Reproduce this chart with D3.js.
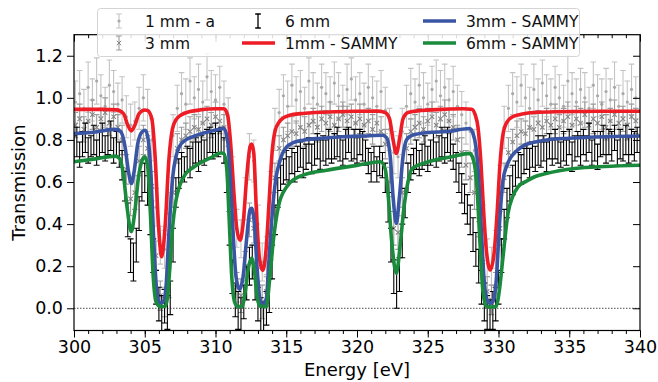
<!DOCTYPE html>
<html>
<head>
<meta charset="utf-8">
<script src="https://cdn.jsdelivr.net/npm/d3@7"></script>
<style>
  body { margin: 0; background: #fff; }
  svg { display: block; font-family: "DejaVu Sans", sans-serif; }
</style>
</head>
<body>
<svg id="chart" width="658" height="382"></svg>
<script>
'use strict';

// measured energies of the 1 mm and 3 mm samples
var energy = [
  300.1,300.4,300.7,301.0,301.3,301.6,301.9,302.2,302.5,302.8,
  303.1,303.4,303.7,304.0,304.3,304.6,304.9,305.2,305.5,305.8,
  306.1,306.4,306.7,307.0,307.3,307.6,307.9,308.2,308.5,308.8,
  309.1,309.4,309.7,310.0,310.3,310.6,310.9,311.2,311.5,311.8,
  312.1,312.4,312.7,313.0,313.3,313.6,313.9,314.2,314.5,314.8,
  315.1,315.4,315.7,316.0,316.3,316.6,316.9,317.2,317.5,317.8,
  318.1,318.4,318.7,319.0,319.3,319.6,319.9,320.2,320.5,320.8,
  321.1,321.4,321.7,322.0,322.3,322.6,322.9,323.2,323.5,323.8,
  324.1,324.4,324.7,325.0,325.3,325.6,325.9,326.2,326.5,326.8,
  327.1,327.4,327.7,328.0,328.3,328.6,328.9,329.2,329.5,329.8,
  330.1,330.4,330.7,331.0,331.3,331.6,331.9,332.2,332.5,332.8,
  333.1,333.4,333.7,334.0,334.3,334.6,334.9,335.2,335.5,335.8,
  336.1,336.4,336.7,337.0,337.3,337.6,337.9,338.2,338.5,338.8,
  339.1,339.4,339.7
];

// 1 mm - a
var t1 = [
  0.98,1.02,0.95,1.05,0.99,1.08,1.01,0.96,1.06,1.03,
  0.97,0.99,0.91,0.87,0.89,0.95,1.00,0.94,0.80,0.48,
  0.30,0.28,0.45,0.82,0.95,1.02,0.97,1.08,1.00,1.04,
  0.98,1.10,1.03,0.99,1.05,0.97,0.90,0.62,0.38,0.33,
  0.52,0.72,0.70,0.40,0.22,0.25,0.55,0.85,0.93,1.01,
  0.96,1.06,0.99,1.03,0.95,1.08,1.00,0.97,1.05,1.02,
  0.98,1.07,1.01,0.96,1.04,1.09,0.99,1.02,0.97,1.05,
  1.00,0.96,1.03,0.94,0.85,0.74,0.72,0.84,0.96,1.02,
  0.98,1.06,1.00,0.97,1.04,1.08,1.01,1.05,0.99,1.03,
  0.96,0.92,0.88,0.84,0.75,0.62,0.40,0.24,0.20,0.28,
  0.58,0.86,0.95,1.02,0.98,1.06,1.00,0.95,1.04,0.99,
  1.07,1.01,0.97,1.05,1.00,0.96,1.08,1.02,0.98,1.04,
  1.00,0.95,1.06,1.01,0.97,1.03,0.99,1.05,0.96,1.02,
  0.98,1.04,1.00
];
var e1 = [
  0.10,0.11,0.09,0.12,0.10,0.11,0.10,0.09,0.12,0.10,
  0.10,0.11,0.10,0.10,0.09,0.10,0.11,0.10,0.10,0.09,
  0.09,0.09,0.10,0.10,0.11,0.10,0.12,0.11,0.10,0.12,
  0.10,0.11,0.10,0.12,0.10,0.11,0.10,0.10,0.09,0.09,
  0.10,0.11,0.10,0.09,0.09,0.09,0.10,0.10,0.11,0.10,
  0.12,0.10,0.11,0.10,0.10,0.11,0.12,0.10,0.11,0.10,
  0.12,0.10,0.11,0.10,0.12,0.10,0.11,0.10,0.10,0.11,
  0.10,0.12,0.10,0.11,0.10,0.10,0.10,0.11,0.10,0.12,
  0.11,0.10,0.12,0.10,0.11,0.10,0.12,0.11,0.10,0.12,
  0.10,0.11,0.10,0.10,0.10,0.10,0.09,0.09,0.09,0.09,
  0.10,0.10,0.11,0.10,0.12,0.10,0.11,0.10,0.12,0.10,
  0.11,0.10,0.12,0.10,0.11,0.10,0.12,0.10,0.11,0.10,
  0.12,0.10,0.11,0.10,0.12,0.11,0.10,0.12,0.10,0.11,
  0.10,0.12,0.10
];

// 3 mm
var t3 = [
  0.87,0.90,0.85,0.89,0.92,0.86,0.90,0.93,0.88,0.91,
  0.86,0.80,0.66,0.52,0.55,0.70,0.80,0.76,0.58,0.25,
  0.06,0.03,0.12,0.55,0.76,0.80,0.82,0.84,0.86,0.85,
  0.88,0.90,0.87,0.91,0.89,0.86,0.70,0.35,0.10,0.06,
  0.20,0.42,0.38,0.12,0.03,0.08,0.30,0.62,0.76,0.80,
  0.82,0.84,0.83,0.86,0.84,0.87,0.89,0.86,0.90,0.88,
  0.91,0.87,0.90,0.92,0.89,0.91,0.88,0.90,0.87,0.89,
  0.85,0.88,0.84,0.78,0.60,0.38,0.36,0.55,0.76,0.84,
  0.86,0.88,0.85,0.89,0.91,0.87,0.90,0.92,0.89,0.86,
  0.80,0.74,0.68,0.62,0.55,0.42,0.22,0.08,0.04,0.10,
  0.38,0.62,0.74,0.79,0.82,0.84,0.83,0.86,0.85,0.88,
  0.86,0.89,0.87,0.90,0.86,0.89,0.91,0.87,0.90,0.88,
  0.92,0.87,0.90,0.88,0.91,0.86,0.89,0.92,0.88,0.90,
  0.87,0.91,0.89
];
var e3 = [
  0.06,0.07,0.06,0.06,0.07,0.06,0.05,0.07,0.06,0.06,
  0.06,0.07,0.07,0.08,0.08,0.07,0.07,0.06,0.07,0.07,
  0.07,0.07,0.07,0.07,0.07,0.06,0.06,0.07,0.06,0.06,
  0.07,0.06,0.06,0.07,0.06,0.06,0.07,0.07,0.07,0.08,
  0.07,0.08,0.07,0.07,0.08,0.07,0.07,0.07,0.06,0.06,
  0.06,0.07,0.06,0.06,0.07,0.06,0.06,0.07,0.06,0.06,
  0.07,0.06,0.06,0.06,0.07,0.06,0.06,0.07,0.06,0.06,
  0.07,0.06,0.07,0.07,0.07,0.08,0.08,0.07,0.07,0.06,
  0.06,0.07,0.06,0.06,0.07,0.06,0.06,0.07,0.06,0.06,
  0.07,0.07,0.07,0.07,0.08,0.08,0.08,0.07,0.07,0.07,
  0.08,0.07,0.07,0.06,0.07,0.06,0.06,0.07,0.06,0.06,
  0.07,0.06,0.06,0.07,0.06,0.06,0.07,0.06,0.06,0.07,
  0.06,0.06,0.07,0.06,0.07,0.06,0.06,0.07,0.06,0.06,
  0.07,0.06,0.06
];

// measured energies of the 6 mm sample
var energy6 = [
  300.0,300.2,300.4,300.6,300.8,301.0,301.2,301.4,301.6,301.8,
  302.0,302.2,302.4,302.6,302.8,303.0,303.2,303.4,303.6,303.8,
  304.0,304.2,304.4,304.6,304.8,305.0,305.2,305.4,305.6,305.8,
  306.0,306.2,306.4,306.6,306.8,307.0,307.2,307.4,307.6,307.8,
  308.0,308.2,308.4,308.6,308.8,309.0,309.2,309.4,309.6,309.8,
  310.0,310.2,310.4,310.6,310.8,311.0,311.2,311.4,311.6,311.8,
  312.0,312.2,312.4,312.6,312.8,313.0,313.2,313.4,313.6,313.8,
  314.0,314.2,314.4,314.6,314.8,315.0,315.2,315.4,315.6,315.8,
  316.0,316.2,316.4,316.6,316.8,317.0,317.2,317.4,317.6,317.8,
  318.0,318.2,318.4,318.6,318.8,319.0,319.2,319.4,319.6,319.8,
  320.0,320.2,320.4,320.6,320.8,321.0,321.2,321.4,321.6,321.8,
  322.0,322.2,322.4,322.6,322.8,323.0,323.2,323.4,323.6,323.8,
  324.0,324.2,324.4,324.6,324.8,325.0,325.2,325.4,325.6,325.8,
  326.0,326.2,326.4,326.6,326.8,327.0,327.2,327.4,327.6,327.8,
  328.0,328.2,328.4,328.6,328.8,329.0,329.2,329.4,329.6,329.8,
  330.0,330.2,330.4,330.6,330.8,331.0,331.2,331.4,331.6,331.8,
  332.0,332.2,332.4,332.6,332.8,333.0,333.2,333.4,333.6,333.8,
  334.0,334.2,334.4,334.6,334.8,335.0,335.2,335.4,335.6,335.8,
  336.0,336.2,336.4,336.6,336.8,337.0,337.2,337.4,337.6,337.8,
  338.0,338.2,338.4,338.6,338.8,339.0,339.2,339.4,339.6,339.8
];

// 6 mm
var t6 = [
  0.76,0.79,0.73,0.78,0.81,0.75,0.77,0.80,0.74,0.78,
  0.81,0.76,0.79,0.82,0.75,0.78,0.73,0.68,0.58,0.42,
  0.25,0.22,0.30,0.45,0.58,0.62,0.56,0.42,0.25,0.10,
  0.02,-0.03,0.01,-0.02,0.05,0.30,0.55,0.64,0.68,0.66,
  0.71,0.69,0.73,0.75,0.72,0.76,0.74,0.78,0.80,0.77,
  0.81,0.78,0.80,0.75,0.62,0.38,0.15,0.04,-0.01,-0.03,
  0.03,0.12,0.20,0.22,0.12,0.02,-0.04,-0.05,0.00,0.06,
  0.22,0.42,0.55,0.62,0.65,0.68,0.66,0.70,0.67,0.71,
  0.73,0.69,0.72,0.75,0.71,0.74,0.77,0.73,0.76,0.74,
  0.78,0.75,0.77,0.79,0.76,0.74,0.78,0.80,0.76,0.78,
  0.75,0.79,0.77,0.74,0.70,0.67,0.71,0.66,0.70,0.68,
  0.62,0.48,0.30,0.15,0.09,0.16,0.32,0.50,0.62,0.67,
  0.70,0.73,0.69,0.72,0.75,0.71,0.74,0.77,0.73,0.76,
  0.79,0.75,0.80,0.77,0.72,0.67,0.62,0.57,0.52,0.47,
  0.42,0.35,0.28,0.20,0.10,0.03,-0.02,-0.04,-0.01,0.02,
  0.10,0.25,0.40,0.50,0.57,0.61,0.64,0.68,0.66,0.70,
  0.72,0.69,0.73,0.71,0.75,0.73,0.76,0.72,0.77,0.74,
  0.78,0.75,0.73,0.77,0.74,0.79,0.72,0.76,0.78,0.75,
  0.79,0.76,0.81,0.74,0.77,0.72,0.78,0.80,0.75,0.79,
  0.77,0.81,0.74,0.78,0.76,0.80,0.75,0.79,0.77,0.80
];
var e6 = [
  0.06,0.07,0.06,0.06,0.07,0.06,0.05,0.07,0.06,0.06,
  0.07,0.06,0.06,0.07,0.06,0.06,0.06,0.07,0.07,0.08,
  0.08,0.09,0.08,0.08,0.07,0.07,0.07,0.07,0.08,0.08,
  0.08,0.09,0.08,0.08,0.08,0.08,0.07,0.07,0.06,0.06,
  0.06,0.07,0.06,0.06,0.07,0.06,0.06,0.07,0.06,0.06,
  0.07,0.06,0.06,0.06,0.07,0.08,0.08,0.08,0.09,0.08,
  0.08,0.08,0.09,0.08,0.08,0.08,0.09,0.08,0.08,0.08,
  0.08,0.07,0.07,0.06,0.06,0.07,0.06,0.06,0.07,0.06,
  0.06,0.07,0.06,0.06,0.07,0.06,0.06,0.07,0.06,0.06,
  0.07,0.06,0.06,0.07,0.06,0.06,0.07,0.06,0.06,0.07,
  0.06,0.06,0.07,0.06,0.06,0.07,0.06,0.06,0.07,0.06,
  0.07,0.07,0.08,0.08,0.09,0.08,0.08,0.07,0.07,0.06,
  0.06,0.07,0.06,0.06,0.07,0.06,0.06,0.07,0.06,0.06,
  0.07,0.06,0.06,0.07,0.06,0.07,0.07,0.07,0.07,0.07,
  0.07,0.08,0.08,0.08,0.08,0.09,0.08,0.08,0.09,0.08,
  0.08,0.08,0.07,0.07,0.06,0.07,0.06,0.06,0.07,0.06,
  0.06,0.07,0.06,0.06,0.07,0.06,0.06,0.07,0.06,0.06,
  0.07,0.06,0.06,0.07,0.06,0.06,0.07,0.06,0.06,0.07,
  0.06,0.06,0.07,0.06,0.07,0.06,0.06,0.07,0.06,0.06,
  0.07,0.06,0.06,0.07,0.06,0.07,0.06,0.06,0.07,0.06
];

// SAMMY fits [energy, transmission]
var fit1mm = [
  [300.0,0.945],[302.0,0.945],[303.0,0.943],[303.5,0.925],[303.8,0.87],[304.05,0.843],
  [304.3,0.87],[304.6,0.925],[305.0,0.942],[305.2,0.94],[305.5,0.90],[305.75,0.70],
  [305.95,0.42],[306.2,0.245],[306.45,0.40],[306.7,0.70],[306.95,0.85],[307.2,0.895],
  [307.6,0.92],[308.2,0.935],[309.0,0.943],[310.0,0.948],[310.6,0.948],[310.85,0.92],
  [311.05,0.80],[311.3,0.55],[311.5,0.38],[311.73,0.324],[311.95,0.40],[312.2,0.62],
  [312.45,0.77],[312.56,0.78],[312.7,0.74],[312.9,0.45],[313.1,0.24],[313.33,0.18],
  [313.55,0.26],[313.8,0.52],[314.0,0.74],[314.2,0.84],[314.5,0.885],[314.8,0.905],
  [315.3,0.918],[316.0,0.925],[317.0,0.93],[318.5,0.934],[320.0,0.936],[321.5,0.937],
  [322.0,0.93],[322.3,0.90],[322.55,0.80],[322.78,0.736],[323.0,0.80],[323.25,0.90],
  [323.6,0.93],[324.5,0.94],[326.0,0.945],[327.5,0.948],[328.1,0.946],[328.35,0.92],
  [328.55,0.86],[328.75,0.70],[328.95,0.46],[329.15,0.27],[329.42,0.182],[329.7,0.27],
  [329.9,0.45],[330.1,0.68],[330.3,0.82],[330.6,0.885],[331.0,0.91],[331.6,0.922],
  [332.5,0.93],[334.0,0.934],[337.0,0.936],[340.0,0.936]
];
var fit3mm = [
  [300.0,0.83],[301.5,0.838],[302.9,0.85],[303.3,0.84],[303.6,0.77],[303.85,0.65],
  [304.05,0.593],[304.25,0.65],[304.5,0.78],[304.8,0.838],[305.04,0.846],[305.25,0.80],
  [305.45,0.62],[305.65,0.30],[305.85,0.08],[306.05,0.025],[306.3,0.03],[306.5,0.10],
  [306.7,0.35],[306.97,0.62],[307.2,0.72],[307.44,0.767],[307.9,0.80],[308.4,0.815],
  [309.0,0.83],[309.6,0.84],[310.2,0.85],[310.6,0.854],[310.85,0.80],[311.05,0.62],
  [311.25,0.35],[311.45,0.15],[311.7,0.09],[311.95,0.15],[312.2,0.33],[312.45,0.47],
  [312.56,0.475],[312.75,0.40],[312.95,0.18],[313.15,0.04],[313.38,0.016],[313.6,0.05],
  [313.8,0.25],[314.09,0.514],[314.3,0.63],[314.44,0.672],[314.7,0.73],[315.03,0.767],
  [315.5,0.787],[316.2,0.799],[317.5,0.808],[319.0,0.815],[320.5,0.819],[321.8,0.822],
  [322.1,0.81],[322.35,0.72],[322.55,0.53],[322.78,0.403],[323.0,0.53],[323.25,0.72],
  [323.5,0.80],[323.9,0.822],[325.0,0.835],[326.4,0.84],[327.96,0.854],[328.2,0.83],
  [328.4,0.77],[328.6,0.62],[328.8,0.35],[329.0,0.12],[329.2,0.04],[329.42,0.024],
  [329.65,0.04],[329.85,0.14],[330.05,0.38],[330.32,0.609],[330.6,0.68],[330.9,0.72],
  [331.4,0.755],[331.85,0.775],[332.6,0.79],[333.4,0.80],[335.0,0.808],[337.0,0.814],
  [340.0,0.819]
];
var fit6mm = [
  [300.0,0.696],[301.5,0.71],[302.9,0.723],[303.25,0.71],[303.5,0.63],[303.75,0.48],
  [304.05,0.364],[304.3,0.46],[304.55,0.62],[304.8,0.70],[305.0,0.72],[305.2,0.68],
  [305.4,0.45],[305.6,0.15],[305.8,0.03],[306.1,0.008],[306.45,0.01],[306.6,0.05],
  [306.8,0.22],[306.97,0.387],[307.2,0.51],[307.44,0.577],[307.9,0.64],[308.4,0.668],
  [308.86,0.688],[309.6,0.713],[310.4,0.738],[310.6,0.735],[310.8,0.66],[310.95,0.45],
  [311.15,0.15],[311.35,0.03],[311.6,0.008],[311.9,0.01],[312.1,0.08],[312.35,0.20],
  [312.56,0.237],[312.75,0.18],[312.95,0.05],[313.15,0.01],[313.6,0.008],[313.8,0.12],
  [314.09,0.324],[314.44,0.482],[315.03,0.577],[315.6,0.615],[316.2,0.633],[317.86,0.656],
  [320.07,0.68],[321.67,0.696],[322.0,0.66],[322.2,0.54],[322.45,0.32],[322.78,0.166],
  [323.05,0.30],[323.32,0.48],[323.6,0.60],[323.9,0.664],[325.0,0.695],[326.7,0.72],
  [327.96,0.736],[328.25,0.70],[328.45,0.60],[328.7,0.30],[328.9,0.08],[329.14,0.01],
  [329.5,0.006],[329.85,0.01],[330.05,0.08],[330.32,0.245],[330.67,0.451],[331.0,0.53],
  [331.38,0.577],[332.0,0.605],[332.56,0.625],[333.36,0.64],[335.4,0.664],[337.5,0.674],
  [340.0,0.68]
];

var xTicks = [300, 305, 310, 315, 320, 325, 330, 335, 340];
var yTicks = [0.0, 0.2, 0.4, 0.6, 0.8, 1.0, 1.2];

var svg = d3.select('#chart');
var plotLeft = 74, plotRight = 640, plotTop = 34.7, plotBottom = 330.5;

var x = d3.scaleLinear().domain([300, 340]).range([plotLeft, plotRight]);
var y = d3.scaleLinear().domain([-0.1055, 1.30]).range([plotBottom, plotTop]);

svg.append('defs').append('clipPath').attr('id', 'plotclip')
	.append('rect')
	.attr('x', plotLeft).attr('y', plotTop)
	.attr('width', plotRight - plotLeft).attr('height', plotBottom - plotTop);

var plot = svg.append('g').attr('clip-path', 'url(#plotclip)');

// zero reference line
plot.append('line')
	.attr('x1', plotLeft).attr('x2', plotRight)
	.attr('y1', y(0)).attr('y2', y(0))
	.attr('stroke', '#222')
	.attr('stroke-width', 0.8)
	.attr('stroke-dasharray', '1.5,1.5');

function errorSeries(energies, values, errors, color, cap, width) {
	var rows = energies.map(function (e, i) {
		return { e: e, v: values[i], s: errors[i] };
	});
	var g = plot.append('g')
		.attr('stroke', color)
		.attr('stroke-width', width)
		.attr('fill', 'none');
	g.selectAll('path.bar').data(rows).enter().append('path')
		.attr('class', 'bar')
		.attr('d', function (d) {
			var cx = x(d.e), lo = y(d.v - d.s), hi = y(d.v + d.s);
			return 'M' + cx + ',' + lo + 'V' + hi +
				'M' + (cx - cap) + ',' + lo + 'H' + (cx + cap) +
				'M' + (cx - cap) + ',' + hi + 'H' + (cx + cap);
		});
	return { g: g, rows: rows };
}

var s1 = errorSeries(energy, t1, e1, '#c4c4c4', 2.8, 1.1);
s1.g.selectAll('circle').data(s1.rows).enter().append('circle')
	.attr('cx', function (d) { return x(d.e); })
	.attr('cy', function (d) { return y(d.v); })
	.attr('r', 1.6)
	.attr('fill', '#a9a9a9')
	.attr('stroke', 'none');

var s3 = errorSeries(energy, t3, e3, '#9c9c9c', 2.8, 1.1);
s3.g.selectAll('path.mk').data(s3.rows).enter().append('path')
	.attr('class', 'mk')
	.attr('d', function (d) {
		var cx = x(d.e), cy = y(d.v), r = 2.2;
		return 'M' + (cx - r) + ',' + (cy - r) + 'L' + (cx + r) + ',' + (cy + r) +
			'M' + (cx - r) + ',' + (cy + r) + 'L' + (cx + r) + ',' + (cy - r);
	})
	.attr('stroke', '#858585');

errorSeries(energy6, t6, e6, '#000', 3, 1.1);

var line = d3.line()
	.x(function (d) { return x(d[0]); })
	.y(function (d) { return y(d[1]); })
	.curve(d3.curveMonotoneX);

var fits = [
	{ data: fit1mm, color: '#ee1c25' },
	{ data: fit3mm, color: '#3a55a4' },
	{ data: fit6mm, color: '#1a8a3c' }
];
fits.forEach(function (f) {
	plot.append('path')
		.attr('d', line(f.data))
		.attr('fill', 'none')
		.attr('stroke', f.color)
		.attr('stroke-width', 3.6)
		.attr('stroke-linejoin', 'round');
});

// axes
var tickFont = '17.5px';
var labelFont = '18px';
function styleAxis(g) {
	g.select('.domain').remove();
	g.selectAll('line').attr('stroke', '#000').attr('stroke-width', 1);
	g.selectAll('text').attr('fill', '#000').style('font-size', tickFont)
		.style('font-family', '"DejaVu Sans", sans-serif');
}

var minorX = d3.range(300, 341, 1);

svg.append('g').attr('transform', 'translate(0,' + plotBottom + ')')
	.call(d3.axisBottom(x).tickValues(minorX).tickSize(3.5).tickFormat(''))
	.call(styleAxis);
svg.append('g').attr('transform', 'translate(0,' + plotBottom + ')')
	.call(d3.axisBottom(x).tickValues(xTicks).tickSize(7).tickPadding(3).tickFormat(d3.format('d')))
	.call(styleAxis);

svg.append('g').attr('transform', 'translate(0,' + plotTop + ')')
	.call(d3.axisTop(x).tickValues(minorX).tickSize(-3.5).tickFormat(''))
	.call(styleAxis);
svg.append('g').attr('transform', 'translate(0,' + plotTop + ')')
	.call(d3.axisTop(x).tickValues(xTicks).tickSize(-7).tickFormat(''))
	.call(styleAxis);

svg.append('g').attr('transform', 'translate(' + plotLeft + ',0)')
	.call(d3.axisLeft(y).tickValues(yTicks).tickSize(7).tickPadding(4).tickFormat(d3.format('.1f')))
	.call(styleAxis);
svg.append('g').attr('transform', 'translate(' + plotRight + ',0)')
	.call(d3.axisRight(y).tickValues(yTicks).tickSize(-7).tickFormat(''))
	.call(styleAxis);

svg.append('rect')
	.attr('x', plotLeft).attr('y', plotTop)
	.attr('width', plotRight - plotLeft).attr('height', plotBottom - plotTop)
	.attr('fill', 'none').attr('stroke', '#000').attr('stroke-width', 1.2);

svg.append('text')
	.attr('x', (plotLeft + plotRight) / 2).attr('y', 376)
	.attr('text-anchor', 'middle')
	.style('font-size', labelFont)
	.text('Energy [eV]');

svg.append('text')
	.attr('transform', 'translate(25,' + ((plotTop + plotBottom) / 2) + ') rotate(-90)')
	.attr('text-anchor', 'middle')
	.style('font-size', labelFont)
	.text('Transmission');

// legend
var legend = svg.append('g');
legend.append('rect')
	.attr('x', 97.5).attr('y', 8.5).attr('width', 482).attr('height', 48)
	.attr('rx', 3)
	.attr('fill', '#fff').attr('fill-opacity', 0.85)
	.attr('stroke', '#d4d4d4');

var legendItems = [
	{ label: '1 mm - a', kind: 'dot', color: '#c4c4c4', mark: '#a9a9a9', hx: 119, tx: 145, ty: 21 },
	{ label: '3 mm', kind: 'x', color: '#9c9c9c', mark: '#858585', hx: 119, tx: 145, ty: 43 },
	{ label: '6 mm', kind: 'bar', color: '#000', hx: 258, tx: 285, ty: 21 },
	{ label: '1mm - SAMMY', kind: 'line', color: '#ee1c25', hx: 242, tx: 285, ty: 43 },
	{ label: '3mm - SAMMY', kind: 'line', color: '#3a55a4', hx: 423, tx: 466, ty: 21 },
	{ label: '6mm - SAMMY', kind: 'line', color: '#1a8a3c', hx: 423, tx: 466, ty: 43 }
];

legendItems.forEach(function (d) {
	var g = legend.append('g');
	if (d.kind === 'line') {
		g.append('line')
			.attr('x1', d.hx).attr('x2', d.hx + 33)
			.attr('y1', d.ty).attr('y2', d.ty)
			.attr('stroke', d.color).attr('stroke-width', 3.6);
	} else {
		var h = 7, c = 2.8;
		g.append('path')
			.attr('d', 'M' + d.hx + ',' + (d.ty - h) + 'V' + (d.ty + h) +
				'M' + (d.hx - c) + ',' + (d.ty - h) + 'H' + (d.hx + c) +
				'M' + (d.hx - c) + ',' + (d.ty + h) + 'H' + (d.hx + c))
			.attr('stroke', d.color).attr('stroke-width', d.kind === 'bar' ? 1.3 : 1.1)
			.attr('fill', 'none');
		if (d.kind === 'dot') {
			g.append('circle').attr('cx', d.hx).attr('cy', d.ty).attr('r', 1.6).attr('fill', d.mark);
		} else if (d.kind === 'x') {
			var r = 2.2;
			g.append('path')
				.attr('d', 'M' + (d.hx - r) + ',' + (d.ty - r) + 'L' + (d.hx + r) + ',' + (d.ty + r) +
					'M' + (d.hx - r) + ',' + (d.ty + r) + 'L' + (d.hx + r) + ',' + (d.ty - r))
				.attr('stroke', d.mark);
		}
	}
	g.append('text')
		.attr('x', d.tx).attr('y', d.ty)
		.attr('dy', '0.36em')
		.style('font-size', '15.5px')
		.attr('fill', '#111')
		.text(d.label);
});
</script>
</body>
</html>
